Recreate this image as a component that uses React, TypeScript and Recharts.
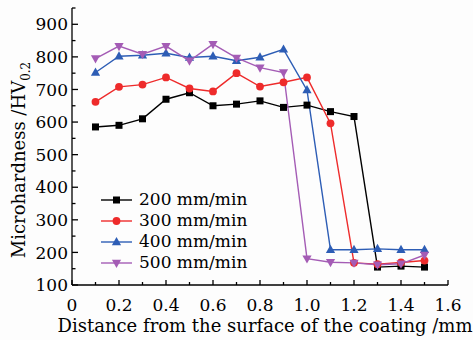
import React from 'react';
import { LineChart, Line, XAxis, YAxis, Legend } from 'recharts';

const distances = [0.1, 0.2, 0.3, 0.4, 0.5, 0.6, 0.7, 0.8, 0.9, 1.0, 1.1, 1.2, 1.3, 1.4, 1.5];
const v200 = [585, 590, 610, 670, 690, 650, 655, 665, 645, 652, 632, 617, 155, 158, 155];
const v300 = [662, 708, 715, 737, 703, 694, 750, 709, 722, 737, 596, 168, 164, 169, 175];
const v400 = [752, 802, 805, 811, 798, 802, 788, 799, 823, 698, 208, 208, 211, 208, 208];
const v500 = [795, 833, 808, 833, 788, 839, 797, 767, 752, 181, 170, 168, 162, 165, 192];

const xTicks = [0, 0.1, 0.2, 0.3, 0.4, 0.5, 0.6, 0.7, 0.8, 0.9, 1.0, 1.1, 1.2, 1.3, 1.4, 1.5, 1.6];
const xMajorLabels: Record<string, string> = { '0': '0', '0.2': '0.2', '0.4': '0.4', '0.6': '0.6', '0.8': '0.8', '1': '1.0', '1.2': '1.2', '1.4': '1.4', '1.6': '1.6' };
const yTicks = [100, 150, 200, 250, 300, 350, 400, 450, 500, 550, 600, 650, 700, 750, 800, 850, 900, 950];
const yMajor = [100, 200, 300, 400, 500, 600, 700, 800, 900];

const series = [
  { key: 's200', name: '200 mm/min', color: '#000000', shape: 'square', values: v200 },
  { key: 's300', name: '300 mm/min', color: '#ee2b2b', shape: 'circle', values: v300 },
  { key: 's400', name: '400 mm/min', color: '#2d5db5', shape: 'up', values: v400 },
  { key: 's500', name: '500 mm/min', color: '#a45cb5', shape: 'down', values: v500 },
];

const data = distances.map((d, i) => {
  const row: any = { x: d };
  series.forEach((s) => (row[s.key] = s.values[i]));
  return row;
});

const FONT = 'DejaVu Serif';

function Marker({ shape, cx, cy, color }: any) {
  if (cx == null || cy == null) return null;
  if (shape === 'square') return <rect x={cx - 3.5} y={cy - 3.5} width={7} height={7} fill={color} />;
  if (shape === 'circle') return <circle cx={cx} cy={cy} r={3.9} fill={color} />;
  if (shape === 'up') return <polygon points={`${cx},${cy - 5} ${cx - 4.6},${cy + 3.2} ${cx + 4.6},${cy + 3.2}`} fill={color} />;
  return <polygon points={`${cx},${cy + 5} ${cx - 4.6},${cy - 3.2} ${cx + 4.6},${cy - 3.2}`} fill={color} />;
}

const makeDot = (shape: string, color: string) => (props: any) => (
  <Marker key={`d-${shape}-${props.index}`} shape={shape} cx={props.cx} cy={props.cy} color={color} />
);

const XTick = (props: any) => {
  const { x, y, payload } = props;
  const v = Math.round(payload.value * 10) / 10;
  const label = xMajorLabels[String(v)];
  const len = label !== undefined ? 5 : 3;
  return (
    <g>
      <line x1={x} y1={y} x2={x} y2={y - len} stroke="#000" strokeWidth={1.3} />
      {label !== undefined && (
        <text x={x} y={y + 26} textAnchor="middle" fontFamily={FONT} fontSize={17} fill="#000">
          {label}
        </text>
      )}
    </g>
  );
};

const YTick = (props: any) => {
  const { x, y, payload } = props;
  const major = yMajor.includes(payload.value);
  const len = major ? 6 : 3.5;
  return (
    <g>
      <line x1={x} y1={y} x2={x + len} y2={y} stroke="#000" strokeWidth={1.3} />
      {major && (
        <text x={x - 4} y={y} dy="0.36em" textAnchor="end" fontFamily={FONT} fontSize={17} fill="#000">
          {payload.value}
        </text>
      )}
    </g>
  );
};

const XTitle = () => (
  <text x={265} y={332} textAnchor="middle" fontFamily={FONT} fontSize={18} fill="#000">
    Distance from the surface of the coating /mm
  </text>
);

const YTitle = () => {
  const cx = 19;
  const cy = 160;
  return (
    <text x={cx} y={cy} transform={`rotate(-90 ${cx} ${cy})`} textAnchor="middle" dy="0.36em" fontFamily={FONT} fontSize={18} fill="#000">
      Microhardness /HV
      <tspan fontSize={12} dy="5">0.2</tspan>
    </text>
  );
};

const LegendContent = () => (
  <div style={{ fontFamily: FONT, fontSize: 17, color: '#000', lineHeight: '21px' }}>
    {series.map((s) => (
      <div key={s.key} style={{ display: 'flex', alignItems: 'center', height: 21 }}>
        <svg width={32} height={14} style={{ marginRight: 6 }}>
          <line x1={0} y1={7} x2={31} y2={7} stroke={s.color} strokeWidth={1.4} />
          <Marker shape={s.shape} cx={15.5} cy={7} color={s.color} />
        </svg>
        <span>{s.name}</span>
      </div>
    ))}
  </div>
);

export default function App() {
  return (
    <div style={{ position: 'absolute', left: 0, top: 0, width: 473, height: 340, background: '#fdfdfd' }}>
      <LineChart width={473} height={340} data={data} margin={{ top: 8, right: 25, bottom: 54, left: 71 }}>
        <XAxis
          dataKey="x"
          type="number"
          domain={[0, 1.6]}
          ticks={xTicks}
          interval={0}
          height={1}
          tickSize={0}
          tickMargin={0}
          tickLine={false}
          tick={<XTick />}
          stroke="#000"
          strokeWidth={1.3}
          allowDataOverflow
          label={XTitle}
        />
        <YAxis
          type="number"
          domain={[100, 950]}
          ticks={yTicks}
          interval={0}
          width={1}
          tickSize={0}
          tickMargin={0}
          tickLine={false}
          tick={<YTick />}
          stroke="#000"
          strokeWidth={1.3}
          allowDataOverflow
          label={YTitle}
        />
        <Legend
          layout="horizontal"
          verticalAlign="middle"
          align="center"
          content={LegendContent}
          wrapperStyle={{ position: 'absolute', left: 101, top: 189, width: 170, height: 90 }}
        />
        {series.map((s) => (
          <Line
            key={s.key}
            dataKey={s.key}
            name={s.name}
            stroke={s.color}
            strokeWidth={1.4}
            dot={makeDot(s.shape, s.color)}
            activeDot={false}
            isAnimationActive={false}
          />
        ))}
      </LineChart>
    </div>
  );
}
